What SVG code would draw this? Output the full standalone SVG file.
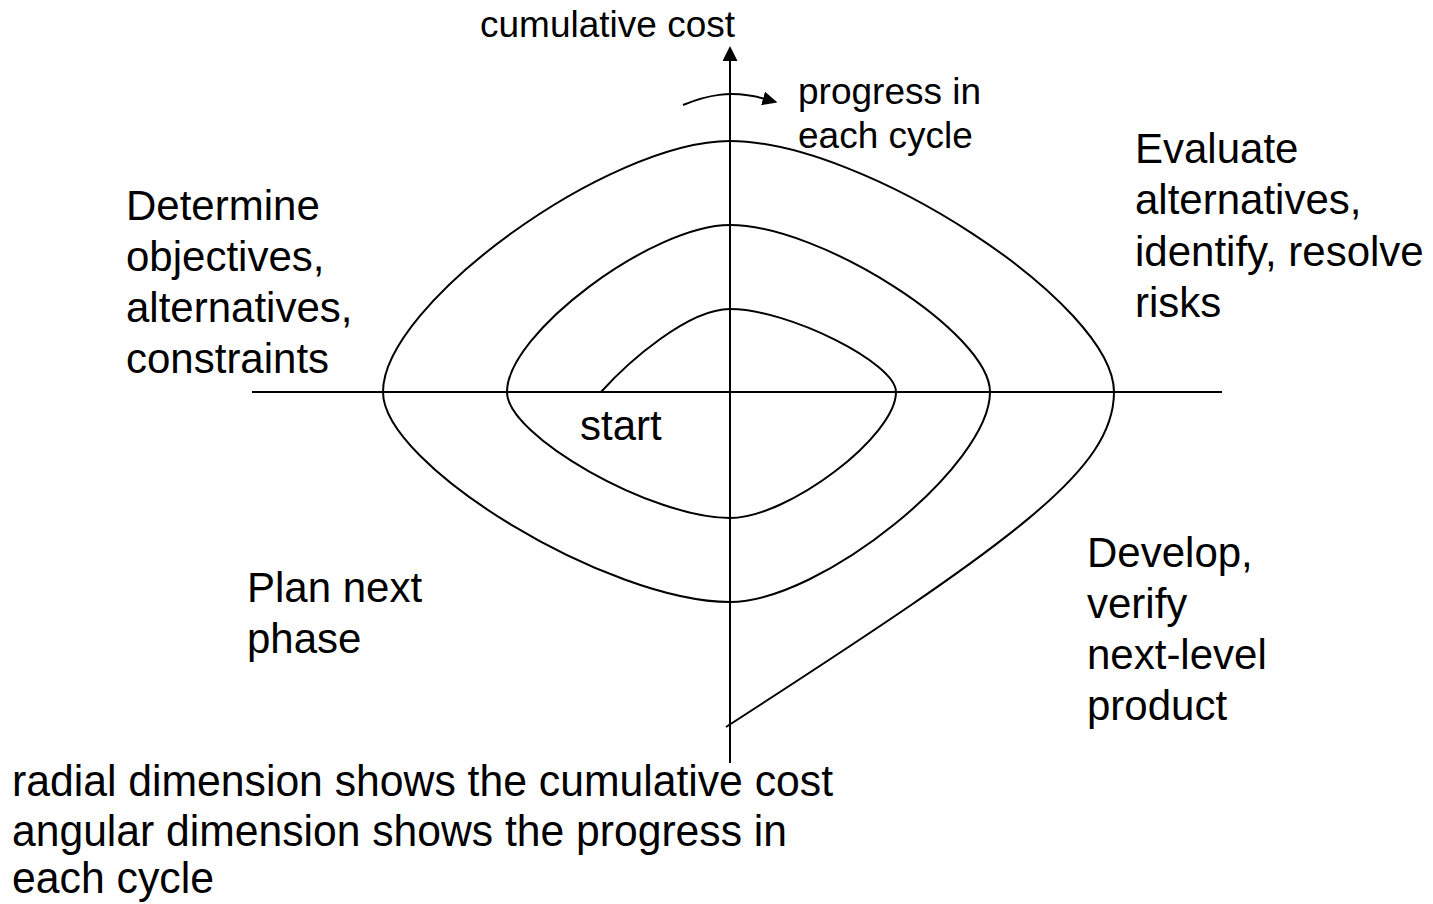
<svg xmlns="http://www.w3.org/2000/svg" width="1433" height="904" viewBox="0 0 1433 904">
  <style>
    .ln { fill: none; stroke: #000; stroke-width: 2; }
    .lbl { font-family: "Liberation Sans", Arial, sans-serif; font-size: 42px; fill: #000; }
    .sm { font-family: "Liberation Sans", Arial, sans-serif; font-size: 37px; fill: #000; }
    .note { font-family: "Liberation Sans", Arial, sans-serif; font-size: 44px; fill: #000; }
  </style>
  <defs>
    <marker id="headAxis" markerUnits="userSpaceOnUse" markerWidth="15" markerHeight="15" refX="6" refY="7.5" orient="auto">
      <path d="M0,0 L15,7.5 L0,15 Z" fill="#000"/>
    </marker>
    <marker id="headTurn" markerUnits="userSpaceOnUse" markerWidth="15" markerHeight="14" refX="2" refY="7" orient="auto">
      <path d="M0,0 L15,7 L0,14 Z" fill="#000"/>
    </marker>
  </defs>
  <rect width="1433" height="904" fill="#fff"/>

  <!-- axes -->
  <g id="axes">
    <line class="ln" x1="252" y1="392" x2="1222" y2="392"/>
    <line class="ln" x1="730" y1="763" x2="730" y2="55" marker-end="url(#headAxis)"/>
  </g>

  <!-- spiral: quarter turns between axis crossings -->
  <g id="spiral">
    <path class="ln" d="M601,392 C628,362 688,309 730,309
      C788.1,309 896,363 896,392
      C896,436.1 788.1,518 730,518
      C652,518 507,436.1 507,392
      C507,333.55 652,225 730,225
      C821,225 990,333.55 990,392
      C990,465.5 821,602 730,602
      C608.55,602 383,465.5 383,392
      C383,304.15 608.55,141 730,141
      C864.4,141 1114,304.15 1114,392
      C1114,470 1015,540 726,727"/>
  </g>

  <!-- direction of progress -->
  <g id="progress-arrow">
    <path class="ln" d="M683,105 C705,96 730,89 765,99" marker-end="url(#headTurn)"/>
  </g>

  <g id="axis-labels">
    <text class="sm" x="480" y="37">cumulative cost</text>
    <text class="sm" x="798" y="104">progress in</text>
    <text class="sm" x="798" y="148">each cycle</text>
  </g>

  <g id="quadrant-objectives">
    <text class="lbl" x="126" y="220">Determine</text>
    <text class="lbl" x="126" y="271">objectives,</text>
    <text class="lbl" x="126" y="322">alternatives,</text>
    <text class="lbl" x="126" y="373">constraints</text>
  </g>

  <g id="quadrant-risks">
    <text class="lbl" x="1135" y="163">Evaluate</text>
    <text class="lbl" x="1135" y="214">alternatives,</text>
    <text class="lbl" x="1135" y="266">identify, resolve</text>
    <text class="lbl" x="1135" y="317">risks</text>
  </g>

  <g id="quadrant-develop">
    <text class="lbl" x="1087" y="567">Develop,</text>
    <text class="lbl" x="1087" y="618">verify</text>
    <text class="lbl" x="1087" y="669">next-level</text>
    <text class="lbl" x="1087" y="720">product</text>
  </g>

  <g id="quadrant-plan">
    <text class="lbl" x="247" y="602">Plan next</text>
    <text class="lbl" x="247" y="653">phase</text>
  </g>

  <g id="start-label">
    <text class="lbl" x="580" y="440">start</text>
  </g>

  <g id="legend">
    <text class="note" x="12" y="796" textLength="821" lengthAdjust="spacingAndGlyphs">radial dimension shows the cumulative cost</text>
    <text class="note" x="12" y="846" textLength="775" lengthAdjust="spacingAndGlyphs">angular dimension shows the progress in</text>
    <text class="note" x="12" y="893" textLength="202" lengthAdjust="spacingAndGlyphs">each cycle</text>
  </g>
</svg>
